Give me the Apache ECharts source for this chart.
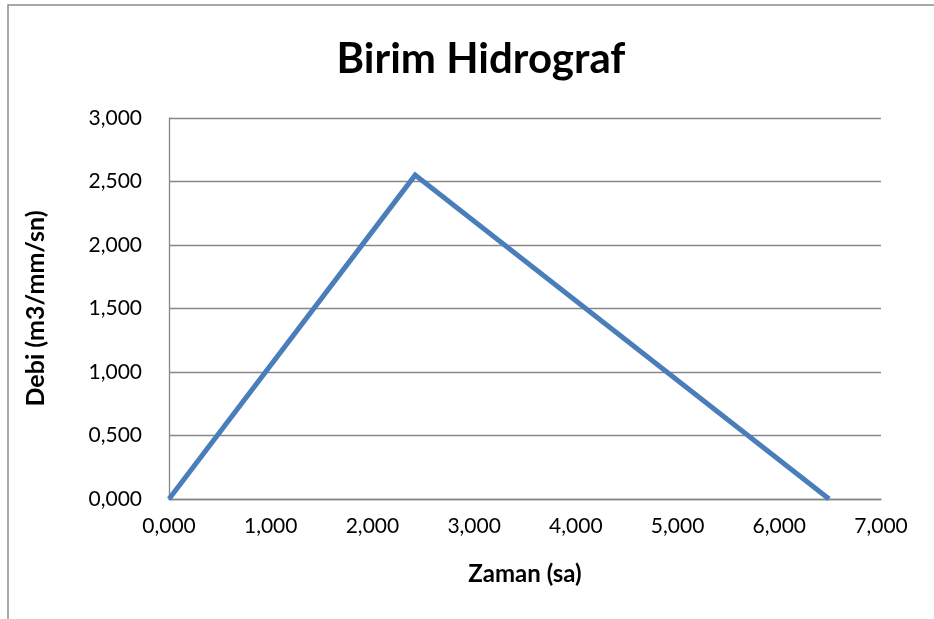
<!DOCTYPE html>
<html>
<head>
<meta charset="utf-8">
<script src="https://cdn.jsdelivr.net/npm/echarts@6/dist/echarts.min.js"></script>
<style>html,body{margin:0;padding:0;background:#fff;}#c{width:934px;height:619px;}</style>
</head>
<body>
<div id="c"></div>
<script>
const titleText = "Birim Hidrograf";
const xName = "Zaman (sa)";
const yName = "Debi (m3/mm/sn)";
const timeValues = [0, 2.42, 6.49];
const flowValues = [0, 2.55, 0];

const fmt = v => v.toFixed(3).replace('.', ',');
const FONT = "Lato, 'Open Sans', sans-serif";

const chart = echarts.init(document.getElementById('c'), null, {renderer: 'canvas'});
chart.setOption({
  animation: false,
  backgroundColor: '#fff',
  title: {
    text: titleText,
    left: 476, top: 33, textAlign: 'center',
    textStyle: {fontFamily: FONT, fontWeight: 'bold', fontSize: 42, color: '#000'}
  },
  graphic: [{
    type: 'rect', shape: {x: 8, y: 5, width: 1000, height: 700},
    style: {fill: 'none', stroke: '#8c8c8c', lineWidth: 1.5}, silent: true
  }],
  grid: {left: 169, right: 53, top: 118, bottom: 120},
  xAxis: {
    type: 'value', min: 0, max: 7, interval: 1,
    name: xName, nameLocation: 'middle', nameGap: 63,
    nameTextStyle: {fontFamily: FONT, fontWeight: 'bold', fontSize: 24, color: '#000'},
    axisLine: {show: true, onZero: false, lineStyle: {color: '#868686', width: 1.3}},
    axisTick: {show: false},
    splitLine: {show: false},
    axisLabel: {formatter: fmt, fontFamily: FONT, fontSize: 21, color: '#000', margin: 17}
  },
  yAxis: {
    type: 'value', min: 0, max: 3, interval: 0.5,
    name: yName, nameLocation: 'middle', nameGap: 121,
    nameTextStyle: {fontFamily: FONT, fontWeight: 'bold', fontSize: 25, color: '#000'},
    axisLine: {show: true, lineStyle: {color: '#868686', width: 1.3}},
    axisTick: {show: false},
    splitLine: {show: true, lineStyle: {color: '#868686', width: 1.3}},
    axisLabel: {formatter: fmt, fontFamily: FONT, fontSize: 21, color: '#000', margin: 27}
  },
  series: [{
    type: 'line',
    data: timeValues.map((t, i) => [t, flowValues[i]]),
    showSymbol: false,
    lineStyle: {color: '#4a7ebb', width: 5, join: 'miter'},
    itemStyle: {color: '#4a7ebb'}
  }]
});
</script>
</body>
</html>
